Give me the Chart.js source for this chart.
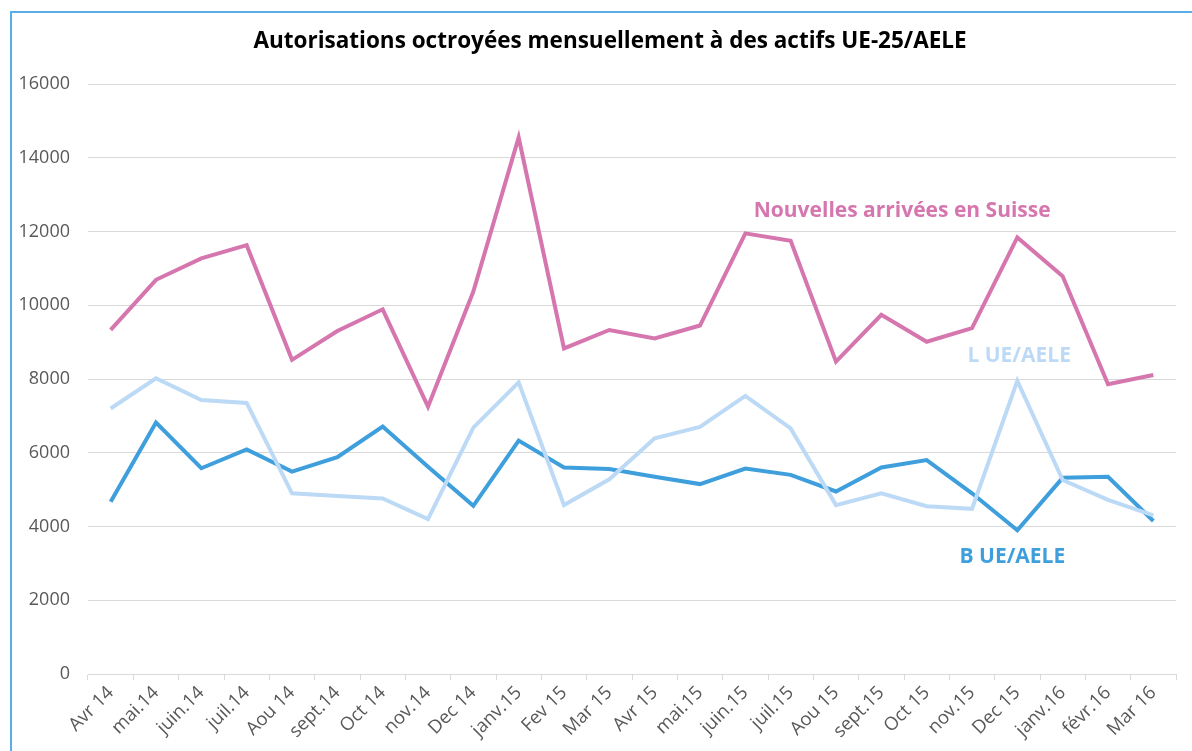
<!DOCTYPE html>
<html>
<head>
<meta charset="utf-8">
<script src="https://cdn.jsdelivr.net/npm/chart.js@4.4.1/dist/chart.umd.min.js"></script>
<style>
  html, body { margin: 0; padding: 0; background: #fff; }
  body { width: 1192px; height: 751px; position: relative; overflow: hidden; }
  #frame { position: absolute; left: 10px; top: 11px; width: 1200px; height: 800px;
           border-left: 2px solid #5aaee8; border-top: 2px solid #5aaee8; box-sizing: border-box; }
  #wrap { position: absolute; left: 0; top: 0; width: 1192px; height: 751px; }
</style>
</head>
<body>
<div id="frame"></div>
<div id="wrap"><canvas id="c" width="1192" height="751"></canvas></div>
<script>
const categories = ["Avr 14","mai.14","juin.14","juil.14","Aou 14","sept.14","Oct 14","nov.14","Dec 14","janv.15","Fev 15","Mar 15","Avr 15","mai.15","juin.15","juil.15","Aou 15","sept.15","Oct 15","nov.15","Dec 15","janv.16","févr.16","Mar 16"];

const nouvellesArrivees = [9330,10690,11270,11630,8520,9300,9890,7250,10370,14550,8830,9330,9100,9450,11950,11750,8470,9740,9010,9380,11840,10790,7860,8110];
const lUeAele = [7200,8020,7430,7350,4900,4830,4760,4200,6680,7910,4580,5280,6390,6700,7540,6660,4580,4900,4550,4480,7950,5260,4720,4300];
const bUeAele = [4670,6820,5580,6090,5490,5880,6710,5620,4560,6330,5600,5560,5350,5150,5570,5400,4950,5600,5800,4900,3900,5320,5350,4150];

const yTicks = [0,2000,4000,6000,8000,10000,12000,14000,16000];

const title = "Autorisations octroyées mensuellement à des actifs UE-25/AELE";

// series labels: text, anchor category index, anchor value
const seriesLabels = [
  { text: "Nouvelles arrivées en Suisse", color: "#d676ae", idx: 17.46, val: 12560 },
  { text: "L UE/AELE", color: "#bcdaf5", idx: 20.04, val: 8630 },
  { text: "B UE/AELE", color: "#3e9fdc", idx: 19.89, val: 3180 }
];

const FONT = "'Open Sans', 'Noto Sans', sans-serif";

const labelPlugin = {
  id: 'seriesLabels',
  afterDatasetsDraw(chart) {
    const ctx = chart.ctx;
    const x = chart.scales.x, y = chart.scales.y;
    ctx.save();
    ctx.font = "bold 21px " + FONT;
    ctx.textAlign = "center";
    ctx.textBaseline = "middle";
    seriesLabels.forEach(l => {
      const px = x.getPixelForValue(l.idx);
      const py = y.getPixelForValue(l.val);
      ctx.fillStyle = l.color;
      ctx.fillText(l.text, px, py);
    });
    // chart title
    ctx.font = "bold 22.5px " + FONT;
    ctx.fillStyle = "#000";
    ctx.fillText(title, 610, 42);
    ctx.restore();
  }
};

new Chart(document.getElementById('c'), {
  type: 'line',
  data: {
    labels: categories,
    datasets: [
      { label: "Nouvelles arrivées en Suisse", data: nouvellesArrivees, borderColor: "#d676ae", borderWidth: 4, pointRadius: 0, tension: 0, fill: false },
      { label: "L UE/AELE", data: lUeAele, borderColor: "#bcdaf5", borderWidth: 4, pointRadius: 0, tension: 0, fill: false },
      { label: "B UE/AELE", data: bUeAele, borderColor: "#3e9fdc", borderWidth: 4, pointRadius: 0, tension: 0, fill: false }
    ]
  },
  options: {
    responsive: false,
    animation: false,
    layout: { padding: { left: 0, right: 16, top: 84, bottom: 0 } },
    plugins: {
      legend: { display: false },
      tooltip: { enabled: false },
      title: { display: false }
    },
    scales: {
      x: {
        offset: true,
        grid: { display: true, drawOnChartArea: false, drawTicks: true, tickLength: 6, color: "#d9d9d9", offset: true },
        border: { display: true, color: "#d9d9d9", width: 1 },
        ticks: { color: "#595959", font: { family: FONT, size: 18.5 }, maxRotation: 45, minRotation: 45, autoSkip: false, padding: 2 },
        afterFit(scale) { scale.height = 77; }
      },
      y: {
        min: 0, max: 16000,
        afterBuildTicks(scale) { scale.ticks = yTicks.map(v => ({ value: v })); },
        grid: { color: "#d9d9d9", lineWidth: 1, drawTicks: false },
        border: { display: false },
        ticks: { color: "#595959", font: { family: FONT, size: 18 }, padding: 18, callback: (v) => String(v) },
        afterFit(scale) { scale.width = 88; }
      }
    }
  },
  plugins: [labelPlugin]
});
</script>
</body>
</html>
